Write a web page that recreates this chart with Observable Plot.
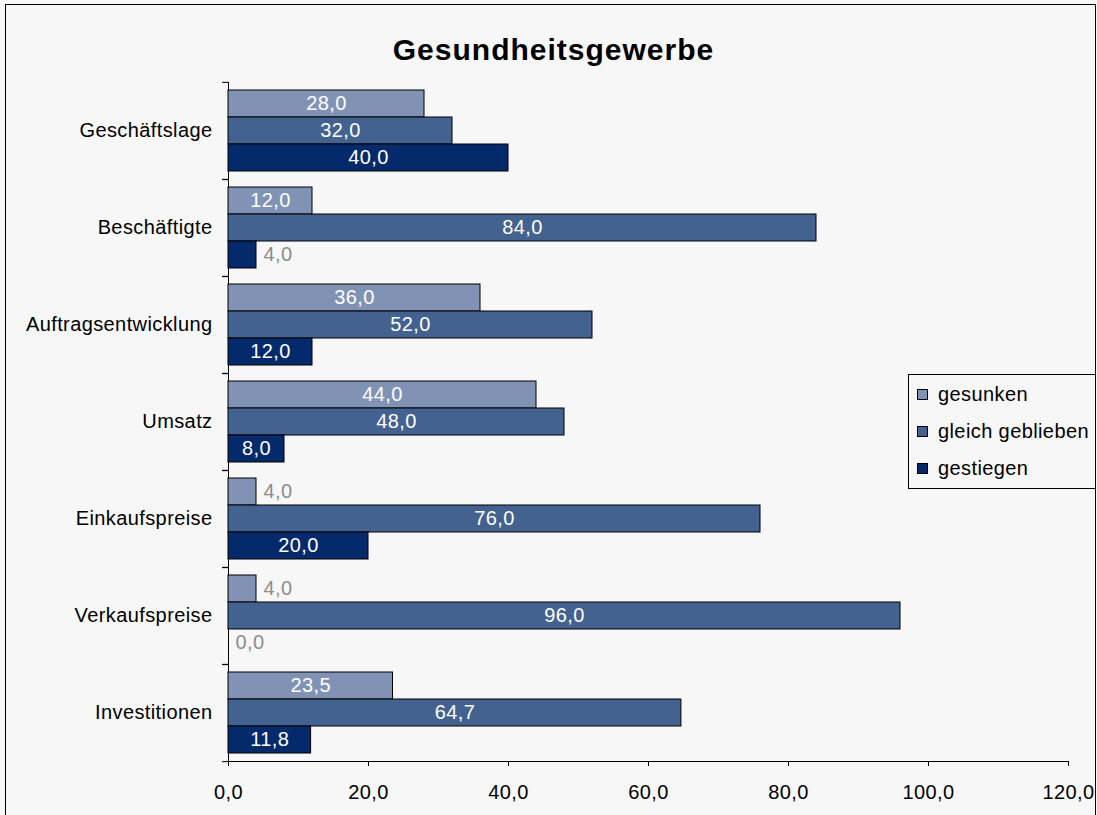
<!DOCTYPE html>
<html>
<head>
<meta charset="utf-8">
<script src="https://cdn.jsdelivr.net/npm/d3@7"></script>
<script src="https://cdn.jsdelivr.net/npm/@observablehq/plot@0.6"></script>
<style>
  html, body { margin: 0; padding: 0; background: #f7f7f7; overflow: hidden; }
  body { width: 1097px; height: 815px; position: relative; font-family: "Liberation Sans", Arial, sans-serif; }
  #chart { position: absolute; left: 0; top: 0; }
  #border { position: absolute; left: 5px; top: 4px; width: 1091px; height: 900px; border: 1px solid #000; box-sizing: border-box; pointer-events: none; }
  #title { position: absolute; left: 0; width: 1107px; top: 35px; text-align: center; font-size: 30px; line-height: 30px; font-weight: bold; letter-spacing: 1px; color: #000; }
  #legend { position: absolute; left: 908px; top: 374px; width: 188px; height: 115px; border: 1px solid #000; box-sizing: border-box; padding-top: 1px; }
  .item { display: flex; align-items: center; height: 37px; font-size: 20px; letter-spacing: 0.4px; color: #000; }
  .sw { width: 11px; height: 11px; border: 1px solid #000; box-sizing: border-box; margin-left: 8px; margin-right: 10px; }
</style>
</head>
<body>
<div id="chart"></div>
<div id="title"></div>
<div id="legend"></div>
<div id="border"></div>
<script>
const chartTitle = "Gesundheitsgewerbe";
const categories = ["Geschäftslage", "Beschäftigte", "Auftragsentwicklung", "Umsatz", "Einkaufspreise", "Verkaufspreise", "Investitionen"];
const series = ["gesunken", "gleich geblieben", "gestiegen"];
const gesunken = [28.0, 12.0, 36.0, 44.0, 4.0, 4.0, 23.5];
const gleichGeblieben = [32.0, 84.0, 52.0, 48.0, 76.0, 96.0, 64.7];
const gestiegen = [40.0, 4.0, 12.0, 8.0, 20.0, 0.0, 11.8];
const colors = ["#8193b5", "#43628f", "#042a6b"];
const xTicks = [0, 20, 40, 60, 80, 100, 120];

const seriesValues = [gesunken, gleichGeblieben, gestiegen];
const rows = categories.flatMap((c, i) => series.map((s, j) => ({category: c, series: s, value: seriesValues[j][i]})));
const fmt = v => v.toFixed(1).replace(".", ",");

const W = 1097, H = 815;
const mTop = 81, mRight = 29, mBottom = 53, mLeft = 228;
const step = (H - mTop - mBottom) / categories.length;

const chart = Plot.plot({
  width: W,
  height: H,
  marginTop: mTop,
  marginRight: mRight,
  marginBottom: mBottom,
  marginLeft: mLeft,
  style: {background: "transparent", fontFamily: "'Liberation Sans', Arial, sans-serif", fontSize: "20px", color: "#000", letterSpacing: "0.4px", overflow: "visible"},
  x: {domain: [0, 120], ticks: xTicks, tickFormat: fmt, tickSize: 5, tickPadding: 18, label: null, line: true, axis: "bottom"},
  y: {domain: series, paddingInner: 0, paddingOuter: 0.24, axis: null},
  fy: {domain: categories, padding: 0, axis: null, label: null},
  color: {domain: series, range: colors},
  marks: [
    Plot.ruleX([0], {stroke: "#000"}),
    Plot.barX(rows.filter(d => d.value > 0), {fy: "category", y: "series", x: "value", fill: "series", stroke: "#000", strokeWidth: 1}),
    Plot.text(rows.filter(d => d.value >= 8), {fy: "category", y: "series", x: d => d.value / 2, text: d => fmt(d.value), fill: "#ffffff"}),
    Plot.text(rows.filter(d => d.value < 8), {fy: "category", y: "series", x: "value", text: d => fmt(d.value), fill: "#8c8c8c", textAnchor: "start", dx: 7}),
    Plot.axisFy({anchor: "left", tickSize: 0, tickPadding: 16, label: null}),
    Plot.axisFy({anchor: "left", tickSize: 6, tickFormat: () => "", label: null, dy: -step / 2}),
    Plot.axisFy({anchor: "left", tickSize: 6, tickFormat: () => "", label: null, dy: step / 2})
  ]
});
document.getElementById("chart").appendChild(chart);
document.getElementById("title").textContent = chartTitle;

const legend = document.getElementById("legend");
series.forEach((s, i) => {
  const item = document.createElement("div");
  item.className = "item";
  const sw = document.createElement("div");
  sw.className = "sw";
  sw.style.background = colors[i];
  const label = document.createElement("span");
  label.textContent = s;
  item.appendChild(sw);
  item.appendChild(label);
  legend.appendChild(item);
});
</script>
</body>
</html>
